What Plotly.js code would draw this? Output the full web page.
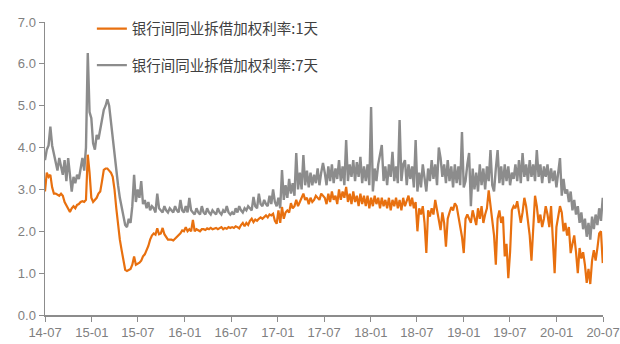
<!DOCTYPE html>
<html>
<head>
<meta charset="utf-8">
<script src="https://cdn.plot.ly/plotly-3.0.1.min.js"></script>
<style>
  html, body { margin: 0; padding: 0; background: #ffffff; }
  #chart { width: 620px; height: 344px; }
</style>
</head>
<body>
<div id="chart"></div>
<script>
// Weekly interbank weighted lending rates (%), Jul 2014 – Jun 2020
const startDate = '2014-07-01';

// 7-day weighted rate, roughly one row per half-year
const rate7d = [
  3.7, 3.95, 4.05, 4.5, 4.05, 3.85, 3.6, 3.45, 3.75, 3.55, 3.35, 3.7, 3.2, 3.75, 3.3, 2.95, 3.3, 3.15, 3.35, 3.25, 3.5, 3.75, 3.45, 4.0, 6.26, 4.85,
  4.7, 4.1, 3.95, 4.3, 4.2, 4.45, 4.6, 4.9, 5.0, 5.15, 5.0, 4.6, 4.2, 3.8, 3.5, 3.1, 2.8, 2.55, 2.3, 2.15, 2.1, 2.3, 2.2, 2.6, 3.35, 2.7,
  3.0, 2.8, 3.2, 2.65, 2.75, 2.55, 2.7, 2.5, 2.6, 2.55, 2.45, 2.9, 2.55, 2.5, 2.45, 2.6, 2.5, 2.45, 2.55, 2.5, 2.45, 2.6, 2.5, 2.45, 2.75, 2.5, 2.45,
  2.6, 2.45, 2.8, 2.5, 2.45, 2.4, 2.55, 2.45, 2.4, 2.6, 2.45, 2.4, 2.55, 2.45, 2.4, 2.5, 2.45, 2.4, 2.55, 2.45, 2.4, 2.5, 2.45, 2.6, 2.45, 2.4,
  2.45, 2.4, 2.55, 2.45, 2.6, 2.5, 2.45, 2.55, 2.5, 2.6, 2.55, 2.5, 2.82, 2.6, 2.55, 2.9, 2.65, 2.6, 2.75, 2.65, 2.6, 2.85, 2.65, 3.0, 2.7, 2.6,
  2.8, 2.55, 3.46, 2.75, 3.1, 2.8, 3.25, 2.9, 3.15, 2.85, 3.87, 3.0, 3.4, 3.0, 3.82, 3.1, 3.45, 3.05, 3.4, 3.1, 3.35, 3.15, 3.5, 3.1, 3.4, 3.63,
  3.4, 3.1, 3.55, 3.2, 3.6, 3.15, 3.5, 3.25, 3.7, 3.2, 3.55, 3.1, 4.18, 3.2, 3.6, 3.3, 3.7, 3.2, 3.65, 3.3, 3.78, 3.15, 3.55, 3.2, 3.6, 3.1, 4.97,
  2.95, 3.5, 3.2, 3.6, 3.87, 4.06, 3.2, 3.55, 3.1, 3.6, 3.3, 3.9, 3.2, 3.55, 3.15, 4.66, 3.2, 3.6, 3.7, 3.1, 3.6, 3.25, 3.55, 3.05, 4.18, 2.95,
  3.4, 3.05, 3.6, 3.2, 2.95, 3.5, 3.2, 3.7, 3.25, 3.6, 3.1, 4.0, 3.75, 3.3, 3.6, 3.15, 3.7, 3.2, 3.55, 3.05, 3.6, 3.15, 3.55, 3.1, 4.37, 3.05,
  3.2, 3.6, 3.87, 2.6, 3.5, 3.0, 3.4, 2.95, 3.6, 3.1, 3.5, 3.0, 3.55, 3.2, 3.94, 3.1, 2.95, 3.5, 3.94, 3.15, 3.55, 3.1, 3.6, 3.2, 3.55, 3.1,
  3.4, 3.25, 3.6, 3.2, 3.7, 3.15, 3.87, 3.3, 3.6, 3.2, 3.7, 3.3, 3.6, 3.2, 3.94, 3.3, 3.6, 3.15, 3.55, 3.3, 3.6, 3.15, 3.5, 3.2, 3.45, 3.05, 3.35,
  3.75, 2.85, 3.25, 2.9, 3.0, 2.7, 2.95, 2.5, 2.75, 2.4, 2.6, 2.2, 2.45, 2.05, 2.3, 1.87, 2.2, 1.8, 2.35, 2.05, 2.4, 2.15, 2.55, 2.25, 2.8
];

// 1-day (overnight) weighted rate, roughly one row per half-year
const rate1d = [
  2.95, 3.4, 3.3, 3.35, 3.05, 2.9, 2.9, 2.88, 2.85, 2.9, 2.85, 2.7, 2.63, 2.55, 2.46, 2.55, 2.6, 2.55, 2.63, 2.65, 2.7, 2.72, 2.7, 2.75, 3.83, 3.4,
  2.8, 2.7, 2.75, 2.8, 2.9, 2.95, 3.2, 3.47, 3.5, 3.5, 3.45, 3.4, 3.3, 3.0, 2.55, 2.15, 1.8, 1.55, 1.3, 1.08, 1.05, 1.07, 1.1, 1.2, 1.4, 1.2,
  1.22, 1.25, 1.3, 1.4, 1.45, 1.55, 1.65, 1.8, 1.9, 1.95, 1.92, 2.07, 1.93, 1.95, 2.08, 1.93, 1.85, 1.8, 1.8, 1.8, 1.78, 1.82, 1.85, 1.9, 1.95, 2.02, 2.0,
  2.1, 2.0, 2.05, 2.0, 2.27, 2.0, 2.05, 2.02, 2.0, 2.05, 2.05, 2.03, 2.07, 2.05, 2.08, 2.05, 2.06, 2.08, 2.05, 2.07, 2.1, 2.05, 2.08, 2.06, 2.1, 2.08,
  2.1, 2.08, 2.12, 2.1, 2.07, 2.15, 2.2, 2.12, 2.2, 2.15, 2.25, 2.3, 2.22, 2.28, 2.25, 2.3, 2.33, 2.3, 2.35, 2.38, 2.33, 2.4, 2.38, 2.42, 2.25, 2.18,
  2.5, 2.2, 2.58, 2.3, 2.45, 2.5, 2.45, 2.67, 2.55, 2.6, 2.75, 2.6, 2.7, 2.8, 2.9, 2.75, 2.8, 2.65, 2.8, 2.7, 2.75, 2.85, 2.8, 2.75, 2.9, 2.85,
  2.8, 2.65, 2.9, 2.7, 2.95, 2.75, 2.85, 2.65, 3.0, 2.75, 2.95, 2.8, 3.06, 2.7, 2.9, 2.65, 2.95, 2.7, 2.85, 2.6, 2.9, 2.65, 2.85, 2.6, 2.85, 2.55, 2.8,
  2.6, 2.85, 2.65, 2.8, 2.55, 2.8, 2.6, 2.75, 2.55, 2.8, 2.5, 2.75, 2.6, 2.8, 2.55, 2.75, 2.5, 2.8, 2.6, 2.75, 2.85, 2.6, 2.8, 2.55, 2.7, 2.0,
  2.55, 2.4, 2.6, 2.2, 1.48, 2.5, 2.35, 2.55, 2.4, 2.75, 2.5, 2.3, 2.03, 2.45, 2.2, 1.63, 2.3, 2.45, 2.58, 2.5, 2.67, 2.6, 2.35, 2.2, 1.87, 1.48,
  2.3, 2.4, 2.3, 2.2, 2.5, 2.3, 2.15, 2.55, 2.3, 2.6, 2.2, 2.4, 2.55, 2.98, 2.6, 2.2, 1.9, 1.2, 2.3, 2.5, 2.2, 2.35, 1.4, 1.7, 0.88, 1.5,
  2.5, 2.6, 2.55, 2.72, 2.5, 2.2, 2.45, 2.8, 2.6, 2.3, 1.9, 1.3, 2.1, 2.85, 2.6, 2.2, 2.4, 2.1, 2.3, 2.6, 2.4, 2.1, 2.6, 1.7, 1.0, 2.1, 2.4,
  2.6, 2.45, 2.0, 2.2, 1.9, 2.1, 1.48, 1.7, 1.9, 1.5, 1.0, 1.6, 1.35, 1.5, 1.2, 0.77, 1.1, 0.74, 1.3, 1.55, 1.3, 1.6, 1.95, 2.0, 1.24
];

// Half-year tick positions and labels
const tickDates = ['2014-07-01', '2015-01-01', '2015-07-01', '2016-01-01', '2016-07-01', '2017-01-01',
  '2017-07-01', '2018-01-01', '2018-07-01', '2019-01-01', '2019-07-01', '2020-01-01', '2020-07-01'];
const tickLabels = ['14-07', '15-01', '15-07', '16-01', '16-07', '17-01',
  '17-07', '18-01', '18-07', '19-01', '19-07', '20-01', '20-07'];

const seriesNames = ['银行间同业拆借加权利率:1天', '银行间同业拆借加权利率:7天'];

// Observation dates: one per week from the start date
function weeklyDates(start, n) {
  const out = [];
  const t0 = Date.parse(start + 'T00:00:00Z');
  for (let i = 0; i < n; i++) {
    out.push(new Date(t0 + i * 7 * 86400000).toISOString().slice(0, 10));
  }
  return out;
}
const dates = weeklyDates(startDate, Math.max(rate1d.length, rate7d.length));

const traces = [
  {
    x: dates.slice(0, rate7d.length), y: rate7d, name: seriesNames[1],
    type: 'scatter', mode: 'lines', legend: 'legend2',
    line: { color: '#8c8c8c', width: 2.4 }
  },
  {
    x: dates.slice(0, rate1d.length), y: rate1d, name: seriesNames[0],
    type: 'scatter', mode: 'lines', legend: 'legend',
    line: { color: '#e8700f', width: 2.2 }
  }
];

const axisGrey = '#8c8c8c';
const tickFont = { family: 'Liberation Sans Narrow, Arial Narrow, Liberation Sans, sans-serif', size: 13, color: '#7f7f7f' };
const legendFont = { family: 'Noto Sans CJK SC, sans-serif', size: 14.5, color: '#404040' };

const layout = {
  width: 620, height: 344,
  margin: { l: 45, r: 17, t: 22, b: 29 },
  paper_bgcolor: '#ffffff', plot_bgcolor: '#ffffff',
  showlegend: true,
  legend: {
    x: 0.084, y: 1.032, xanchor: 'left', yanchor: 'top',
    bgcolor: 'rgba(0,0,0,0)', font: legendFont, itemwidth: 30
  },
  legend2: {
    x: 0.084, y: 0.907, xanchor: 'left', yanchor: 'top',
    bgcolor: 'rgba(0,0,0,0)', font: legendFont, itemwidth: 30
  },
  xaxis: {
    type: 'date',
    range: ['2014-07-01', '2020-07-01'],
    tickmode: 'array', tickvals: tickDates, ticktext: tickLabels,
    ticks: 'outside', ticklen: 5, tickcolor: axisGrey, tickwidth: 1,
    showline: true, linecolor: axisGrey, linewidth: 1.5,
    showgrid: false, zeroline: false,
    tickfont: tickFont, tickangle: 0, ticklabeloverflow: 'allow'
  },
  yaxis: {
    range: [0, 7], dtick: 1, tick0: 0, tickformat: '.1f',
    ticks: 'outside', ticklen: 5, tickcolor: axisGrey, tickwidth: 1,
    showline: true, linecolor: axisGrey, linewidth: 1.5,
    showgrid: false, zeroline: false,
    tickfont: tickFont
  }
};

Plotly.newPlot('chart', traces, layout, { displayModeBar: false, staticPlot: true });
</script>
</body>
</html>
